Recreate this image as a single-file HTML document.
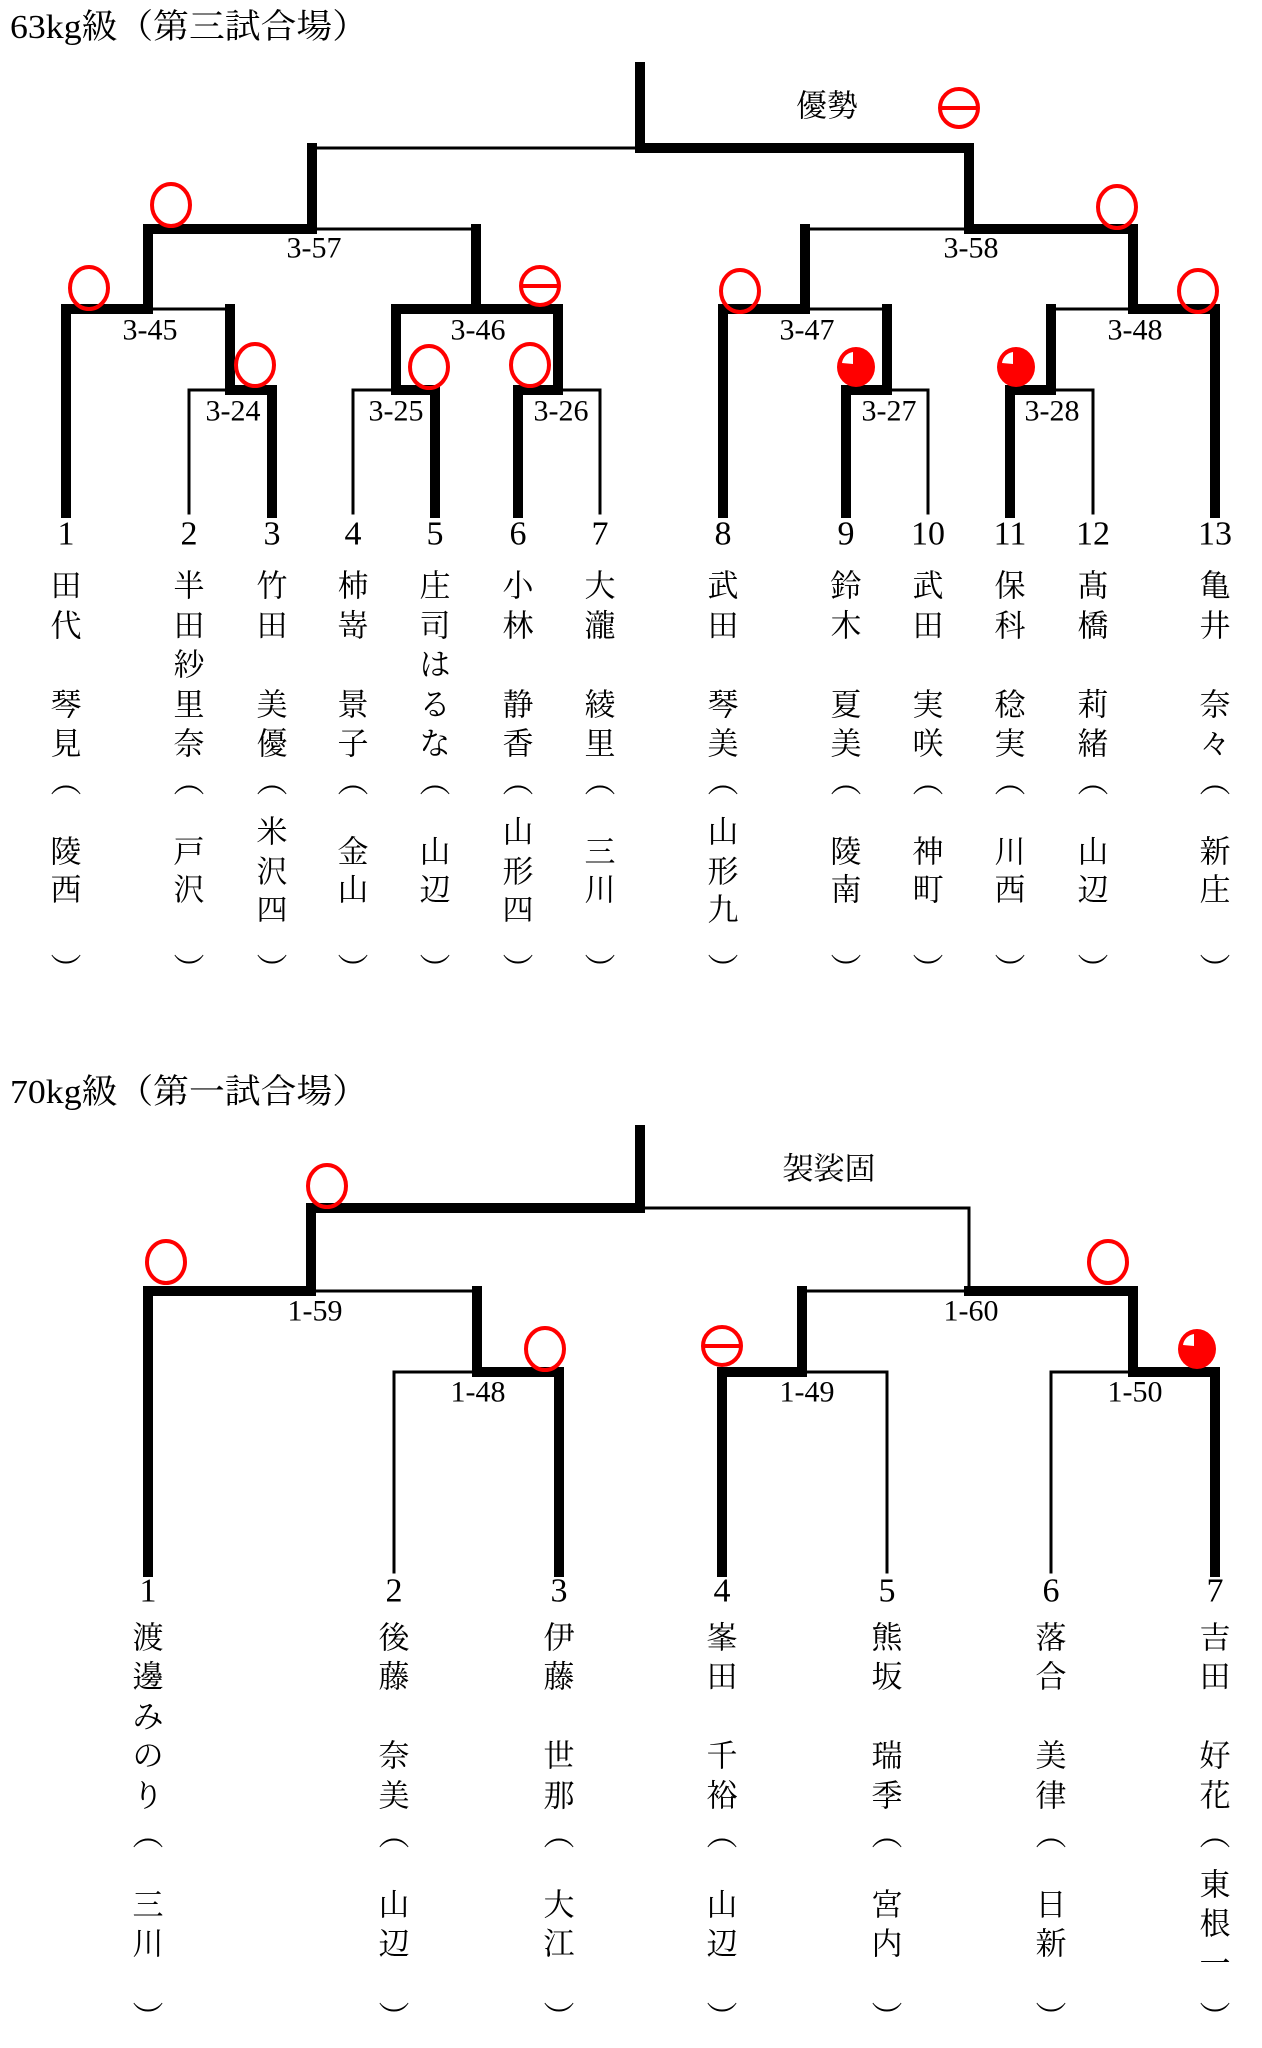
<!DOCTYPE html>
<html><head><meta charset="utf-8"><style>
html,body{margin:0;padding:0;background:#fff;}
svg{display:block;}
text{font-family:"Liberation Serif","Noto Serif CJK JP","Noto Serif CJK SC",serif;fill:#000;}
.n{font-size:34px;text-anchor:middle;dominant-baseline:central;}
.l{font-size:30px;text-anchor:middle;dominant-baseline:central;}
.c{font-size:31px;text-anchor:middle;dominant-baseline:central;}
.T{stroke:#000;stroke-width:10;stroke-linecap:square;fill:none;}
.t{stroke:#000;stroke-width:3;stroke-linecap:square;fill:none;}
.o{stroke:#f00;stroke-width:4;fill:none;}
</style></head><body>
<svg width="1262" height="2048" viewBox="0 0 1262 2048" xmlns="http://www.w3.org/2000/svg">
<defs>
<g id="O"><ellipse class="o" cx="0" cy="0" rx="19" ry="21"/></g>
<g id="H"><ellipse class="o" cx="0" cy="0" rx="19" ry="19"/><line x1="-19" y1="0" x2="19" y2="0" stroke="#f00" stroke-width="4"/></g>
<g id="F"><ellipse cx="0" cy="0" rx="19" ry="20" fill="#f00"/><path d="M-3,-3 L-3,-15 A13,13 0 0 0 -14,-4 Z" fill="#fff"/></g>
</defs>
<text x="10" y="38" style="font-size:34px" textLength="358" lengthAdjust="spacingAndGlyphs">63kg級（第三試合場）</text>

<path class="T" d="M66,309V513M272,390V513M435,390V513M518,390V513M723,309V513M846,390V513M1010,390V513M1215,309V513"/>
<path class="t" d="M189,390V513M353,390V513M600,390V513M928,390V513M1093,390V513"/>
<path class="t" d="M189,390H230M353,390H396M558,390H600M887,390H928M1051,390H1093"/>
<path class="T" d="M230,390H272M396,390H435M518,390H558M846,390H887M1010,390H1051"/>
<path class="T" d="M230,309V390M396,309V390M558,309V390M887,309V390M1051,309V390"/>
<path class="T" d="M66,309H148M396,309H558M723,309H805M1133,309H1215"/>
<path class="t" d="M148,309H230M805,309H887M1051,309H1133"/>
<path class="T" d="M148,229V309M476,229V309M805,229V309M1133,229V309"/>
<path class="T" d="M148,229H312M969,229H1133M312,148V229M969,148V229"/>
<path class="t" d="M312,229H476M805,229H969"/>
<path class="t" d="M312,148H640"/>
<path class="T" d="M640,148H969M640,67V148"/>

<text class="c" x="827" y="106">優勢</text>
<use href="#H" x="959" y="108"/>
<use href="#O" x="171" y="205"/>
<use href="#O" x="89" y="288"/>
<use href="#O" x="255" y="365"/>
<use href="#O" x="429" y="367"/>
<use href="#O" x="530" y="365"/>
<use href="#H" x="540" y="286"/>
<use href="#O" x="1117" y="207"/>
<use href="#O" x="740" y="291"/>
<use href="#O" x="1198" y="291"/>
<use href="#F" x="856" y="367"/>
<use href="#F" x="1016" y="367"/>

<g class="l">
<text x="314" y="248">3-57</text><text x="150" y="330">3-45</text><text x="478" y="330">3-46</text>
<text x="233" y="411">3-24</text><text x="396" y="411">3-25</text><text x="561" y="411">3-26</text>
<text x="971" y="248">3-58</text><text x="807" y="330">3-47</text><text x="1135" y="330">3-48</text>
<text x="889" y="411">3-27</text><text x="1052" y="411">3-28</text>
</g>
<g class="n">
<text x="66" y="534">1</text><text x="189" y="534">2</text><text x="272" y="534">3</text><text x="353" y="534">4</text><text x="435" y="534">5</text><text x="518" y="534">6</text><text x="600" y="534">7</text><text x="723" y="534">8</text><text x="846" y="534">9</text><text x="928" y="534">10</text><text x="1010" y="534">11</text><text x="1093" y="534">12</text><text x="1215" y="534">13</text>
</g>

<g class="c">
<text x="66" y="586">田</text><text x="66" y="626">代</text><text x="66" y="705">琴</text><text x="66" y="744">見</text><text x="66" y="782">︵</text><text x="66" y="852">陵</text><text x="66" y="890">西</text><text x="66" y="970">︶</text>
<text x="189" y="586">半</text><text x="189" y="626">田</text><text x="189" y="665">紗</text><text x="189" y="705">里</text><text x="189" y="744">奈</text><text x="189" y="782">︵</text><text x="189" y="852">戸</text><text x="189" y="890">沢</text><text x="189" y="970">︶</text>
<text x="272" y="586">竹</text><text x="272" y="626">田</text><text x="272" y="705">美</text><text x="272" y="744">優</text><text x="272" y="782">︵</text><text x="272" y="832">米</text><text x="272" y="872">沢</text><text x="272" y="910">四</text><text x="272" y="970">︶</text>
<text x="353" y="586">柿</text><text x="353" y="626">嵜</text><text x="353" y="705">景</text><text x="353" y="744">子</text><text x="353" y="782">︵</text><text x="353" y="852">金</text><text x="353" y="890">山</text><text x="353" y="970">︶</text>
<text x="435" y="586">庄</text><text x="435" y="626">司</text><text x="435" y="665">は</text><text x="435" y="705">る</text><text x="435" y="744">な</text><text x="435" y="782">︵</text><text x="435" y="852">山</text><text x="435" y="890">辺</text><text x="435" y="970">︶</text>
<text x="518" y="586">小</text><text x="518" y="626">林</text><text x="518" y="705">静</text><text x="518" y="744">香</text><text x="518" y="782">︵</text><text x="518" y="832">山</text><text x="518" y="872">形</text><text x="518" y="910">四</text><text x="518" y="970">︶</text>
<text x="600" y="586">大</text><text x="600" y="626">瀧</text><text x="600" y="705">綾</text><text x="600" y="744">里</text><text x="600" y="782">︵</text><text x="600" y="852">三</text><text x="600" y="890">川</text><text x="600" y="970">︶</text>
<text x="723" y="586">武</text><text x="723" y="626">田</text><text x="723" y="705">琴</text><text x="723" y="744">美</text><text x="723" y="782">︵</text><text x="723" y="832">山</text><text x="723" y="872">形</text><text x="723" y="910">九</text><text x="723" y="970">︶</text>
<text x="846" y="586">鈴</text><text x="846" y="626">木</text><text x="846" y="705">夏</text><text x="846" y="744">美</text><text x="846" y="782">︵</text><text x="846" y="852">陵</text><text x="846" y="890">南</text><text x="846" y="970">︶</text>
<text x="928" y="586">武</text><text x="928" y="626">田</text><text x="928" y="705">実</text><text x="928" y="744">咲</text><text x="928" y="782">︵</text><text x="928" y="852">神</text><text x="928" y="890">町</text><text x="928" y="970">︶</text>
<text x="1010" y="586">保</text><text x="1010" y="626">科</text><text x="1010" y="705">稔</text><text x="1010" y="744">実</text><text x="1010" y="782">︵</text><text x="1010" y="852">川</text><text x="1010" y="890">西</text><text x="1010" y="970">︶</text>
<text x="1093" y="586">髙</text><text x="1093" y="626">橋</text><text x="1093" y="705">莉</text><text x="1093" y="744">緒</text><text x="1093" y="782">︵</text><text x="1093" y="852">山</text><text x="1093" y="890">辺</text><text x="1093" y="970">︶</text>
<text x="1215" y="586">亀</text><text x="1215" y="626">井</text><text x="1215" y="705">奈</text><text x="1215" y="744">々</text><text x="1215" y="782">︵</text><text x="1215" y="852">新</text><text x="1215" y="890">庄</text><text x="1215" y="970">︶</text>
</g>

<g transform="translate(0,-8)">
<text x="10" y="1111" style="font-size:34px" textLength="358" lengthAdjust="spacingAndGlyphs">70kg級（第一試合場）</text>
<path class="T" d="M640,1138V1216M311,1216H640M311,1216V1299M148,1299H311M148,1299V1580M477,1299V1380M477,1380H559M559,1380V1580M722,1380H802M802,1299V1380M722,1380V1580M969,1299H1133M1133,1299V1380M1133,1380H1215M1215,1380V1580"/>
<path class="t" d="M640,1216H969M969,1216V1299M311,1299H477M394,1380H477M394,1380V1580M802,1299H969M802,1380H887M887,1380V1580M1051,1380H1133M1051,1380V1580"/>
<text class="c" x="829" y="1177">袈裟固</text>
<use href="#O" x="327" y="1194"/>
<use href="#O" x="166" y="1270"/>
<use href="#O" x="545" y="1357"/>
<use href="#O" x="1108" y="1270"/>
<use href="#H" x="722" y="1354"/>
<use href="#F" x="1197" y="1357"/>
<g class="l">
<text x="315" y="1319">1-59</text><text x="478" y="1400">1-48</text><text x="971" y="1319">1-60</text><text x="807" y="1400">1-49</text><text x="1135" y="1400">1-50</text>
</g>
<g class="n">
<text x="148" y="1599">1</text><text x="394" y="1599">2</text><text x="559" y="1599">3</text><text x="722" y="1599">4</text><text x="887" y="1599">5</text><text x="1051" y="1599">6</text><text x="1215" y="1599">7</text>
</g>
<g class="c">
<text x="148" y="1646">渡</text><text x="148" y="1685">邊</text><text x="148" y="1725">み</text><text x="148" y="1764">の</text><text x="148" y="1804">り</text><text x="148" y="1843">︵</text><text x="148" y="1913">三</text><text x="148" y="1952">川</text><text x="148" y="2026">︶</text>
<text x="394" y="1646">後</text><text x="394" y="1685">藤</text><text x="394" y="1764">奈</text><text x="394" y="1804">美</text><text x="394" y="1843">︵</text><text x="394" y="1913">山</text><text x="394" y="1952">辺</text><text x="394" y="2026">︶</text>
<text x="559" y="1646">伊</text><text x="559" y="1685">藤</text><text x="559" y="1764">世</text><text x="559" y="1804">那</text><text x="559" y="1843">︵</text><text x="559" y="1913">大</text><text x="559" y="1952">江</text><text x="559" y="2026">︶</text>
<text x="722" y="1646">峯</text><text x="722" y="1685">田</text><text x="722" y="1764">千</text><text x="722" y="1804">裕</text><text x="722" y="1843">︵</text><text x="722" y="1913">山</text><text x="722" y="1952">辺</text><text x="722" y="2026">︶</text>
<text x="887" y="1646">熊</text><text x="887" y="1685">坂</text><text x="887" y="1764">瑞</text><text x="887" y="1804">季</text><text x="887" y="1843">︵</text><text x="887" y="1913">宮</text><text x="887" y="1952">内</text><text x="887" y="2026">︶</text>
<text x="1051" y="1646">落</text><text x="1051" y="1685">合</text><text x="1051" y="1764">美</text><text x="1051" y="1804">律</text><text x="1051" y="1843">︵</text><text x="1051" y="1913">日</text><text x="1051" y="1952">新</text><text x="1051" y="2026">︶</text>
<text x="1215" y="1646">吉</text><text x="1215" y="1685">田</text><text x="1215" y="1764">好</text><text x="1215" y="1804">花</text><text x="1215" y="1843">︵</text><text x="1215" y="1893">東</text><text x="1215" y="1932">根</text><text x="1215" y="1972">一</text><text x="1215" y="2026">︶</text>
</g>
</g>
</svg>
</body></html>
